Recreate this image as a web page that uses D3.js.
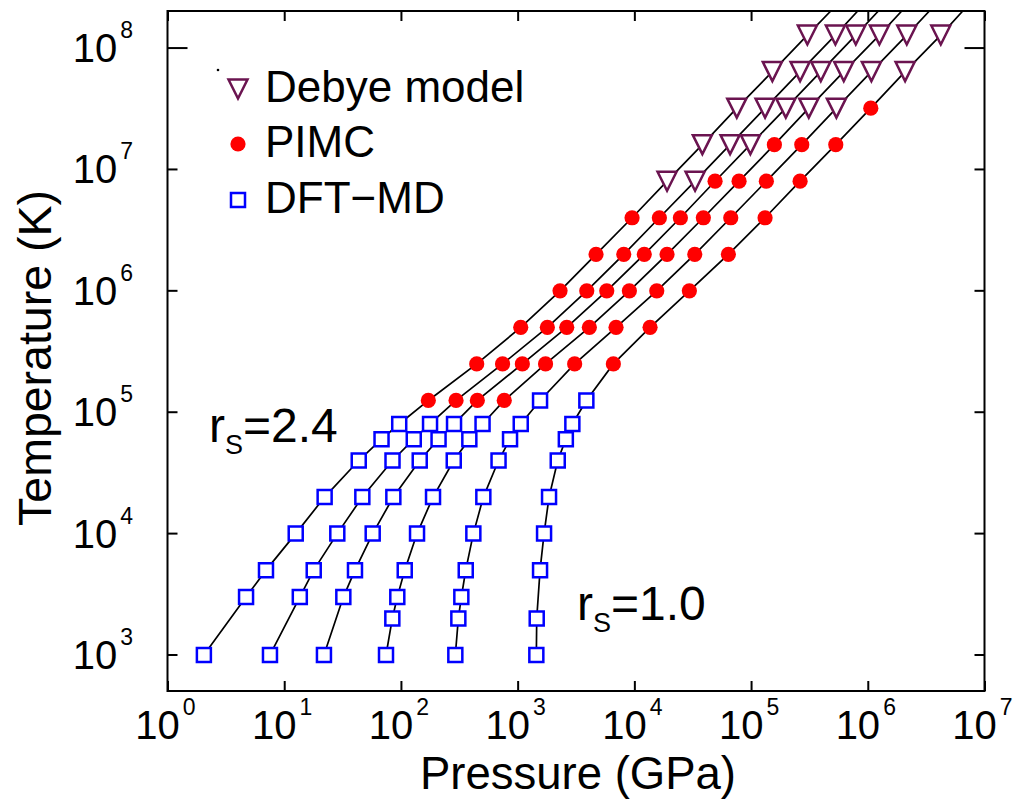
<!DOCTYPE html>
<html>
<head>
<meta charset="utf-8">
<script src="https://cdn.jsdelivr.net/npm/d3@7"></script>
<style>
  body { margin: 0; background: #fff; }
  text { font-family: "Liberation Sans", Arial, Helvetica, sans-serif; fill: #000; }
</style>
</head>
<body>
<script>
// isochores, left (rs=2.4) to right (rs=1.0)
var rsLabels = ["2.4", "1.0"];

var dftT = [
  [1000, 3000, 5000, 10000, 20000, 40000, 60000, 80000],
  [1000, 3000, 5000, 10000, 20000, 40000, 60000, 80000],
  [1000, 3000, 5000, 10000, 20000, 40000, 60000, 80000],
  [1000, 2000, 3000, 5000, 10000, 20000, 40000, 60000, 80000],
  [1000, 2000, 3000, 5000, 10000, 20000, 40000, 60000, 80000, 125000],
  [1000, 2000, 5000, 10000, 20000, 40000, 60000, 80000, 125000]
];
var dftP = [
  [2.05, 4.71, 6.98, 12.55, 22.2, 43.5, 68.2, 96.7],
  [7.55, 13.6, 17.9, 28.5, 46.7, 84.7, 128.8, 177.6],
  [21.9, 32.1, 40.4, 57.3, 86.1, 144.9, 210.1, 285.1],
  [74.5, 84.4, 93.1, 107.8, 137.4, 188.4, 283.5, 385.6, 500.4],
  [292.5, 310.4, 329.3, 359.2, 417.3, 508.2, 686.1, 860.7, 1063, 1556],
  [1446, 1457, 1556, 1684, 1858, 2206, 2588, 2943, 3879]
];
var pimcT = [
  [1.25e5, 2.5e5, 5e5, 1e6, 2e6, 4e6],
  [1.25e5, 2.5e5, 5e5, 1e6, 2e6, 4e6],
  [1.25e5, 2.5e5, 5e5, 1e6, 2e6, 4e6, 8e6],
  [1.25e5, 2.5e5, 5e5, 1e6, 2e6, 4e6, 8e6, 1.6e7],
  [2.5e5, 5e5, 1e6, 2e6, 4e6, 8e6, 1.6e7],
  [2.5e5, 5e5, 1e6, 2e6, 4e6, 8e6, 1.6e7, 3.2e7]
];
var pimcP = [
  [171.7, 446, 1063, 2308, 4696, 9557],
  [296.6, 742.6, 1797, 3910, 8114, 16380],
  [451.5, 1097, 2635, 5800, 12160, 24790, 49150],
  [767.9, 1734, 4116, 9063, 19060, 39010, 78920, 158400],
  [3079, 6969, 15560, 32930, 66990, 135200, 271900],
  [6609, 13630, 29600, 63910, 131800, 263000, 531900, 1061000]
];
var debyeT = [
  [8e6, 1.6e7, 3.2e7, 6.4e7, 1.28e8],
  [8e6, 1.6e7, 3.2e7, 6.4e7, 1.28e8],
  [1.6e7, 3.2e7, 6.4e7, 1.28e8],
  [3.2e7, 6.4e7, 1.28e8],
  [3.2e7, 6.4e7, 1.28e8],
  [6.4e7, 1.28e8]
];
var debyeP = [
  [19060, 38250, 75420, 152200, 303600],
  [33130, 66080, 131800, 263000, 527800],
  [98630, 198400, 395800, 789300],
  [312200, 622800, 1257000],
  [538300, 1074000, 2159000],
  [2088000, 4223000]
];
// pressure where each line leaves the top of the frame
var topP = [482000, 820500, 1233000, 1955000, 3373000, 6516000];

var xTicks = [1, 10, 100, 1e3, 1e4, 1e5, 1e6, 1e7];
var yTicks = [1e3, 1e4, 1e5, 1e6, 1e7, 1e8];
var legendNames = ["Debye model", "PIMC", "DFT\u2212MD"];

var w = 1021, h = 800;
var pL = 167.5, pR = 984.5, pT = 11, pB = 691;

var svg = d3.select("body").append("svg")
    .attr("width", w)
    .attr("height", h);

var x = d3.scaleLog().domain([1, 1e7]).range([pL, pR]);
var y = d3.scaleLog().domain([505, 2.02e8]).range([pB, pT]);

//down-pointing triangle, box centred on the point
var triDown = {
  draw: function(ctx, size){
    var s = Math.sqrt(size);
    ctx.moveTo(-s / 2, -s / 2);
    ctx.lineTo(s / 2, -s / 2);
    ctx.lineTo(0, s / 2);
    ctx.closePath();
  }
};

var triSym = d3.symbol().type(triDown).size(19 * 19);
var sqSym = d3.symbol().type(d3.symbolSquare).size(14 * 14);
var dotSym = d3.symbol().type(d3.symbolCircle).size(Math.PI * 7.6 * 7.6);

var triColor = "#6b1450", sqColor = "#0000ff", dotColor = "#ff0000";

svg.append("clipPath").attr("id", "plotclip")
  .append("rect")
    .attr("x", pL).attr("y", pT)
    .attr("width", pR - pL).attr("height", pB - pT);

//build each isochore: all points ordered by temperature
var curves = dftT.map(function(ts, i){
  var pts = [];
  ts.forEach(function(t, j){ pts.push({T: t, P: dftP[i][j], kind: "dft"}); });
  pimcT[i].forEach(function(t, j){ pts.push({T: t, P: pimcP[i][j], kind: "pimc"}); });
  debyeT[i].forEach(function(t, j){ pts.push({T: t, P: debyeP[i][j], kind: "debye"}); });
  return pts;
});

var line = d3.line()
    .x(function(d){ return x(d.P); })
    .y(function(d){ return y(d.T); });

var plot = svg.append("g").attr("clip-path", "url(#plotclip)");

plot.selectAll(".iso")
    .data(curves)
    .enter()
    .append("path")
    .attr("class", "iso")
    .attr("d", function(d, i){
      return line(d.concat([{T: y.domain()[1], P: topP[i]}]));
    })
    .style("fill", "none")
    .style("stroke", "#000")
    .style("stroke-width", 1.7);

var allPts = d3.merge(curves);

plot.selectAll(".pt")
    .data(allPts)
    .enter()
    .append("path")
    .attr("class", "pt")
    .attr("transform", function(d){ return "translate(" + x(d.P) + "," + y(d.T) + ")"; })
    .attr("d", function(d){
      if (d.kind == "dft") return sqSym();
      if (d.kind == "pimc") return dotSym();
      return triSym();
    })
    .style("fill", function(d){ return d.kind == "pimc" ? dotColor : "#fff"; })
    .style("stroke", function(d){
      if (d.kind == "dft") return sqColor;
      if (d.kind == "debye") return triColor;
      return "none";
    })
    .style("stroke-width", 2.5);

//frame
svg.append("rect")
    .attr("x", pL).attr("y", pT)
    .attr("width", pR - pL).attr("height", pB - pT)
    .style("fill", "none")
    .style("stroke", "#000")
    .style("stroke-width", 2);

//inward ticks on all four sides
function tickLen(v){ return v == 1e8 ? 20 : 10; }

svg.append("g").attr("transform", "translate(0," + pB + ")")
    .call(d3.axisBottom(x).tickValues(xTicks).tickSize(-10).tickFormat(""))
    .call(function(g){ g.select(".domain").remove(); g.selectAll("line").attr("stroke-width", 2); });
svg.append("g").attr("transform", "translate(0," + pT + ")")
    .call(d3.axisTop(x).tickValues(xTicks).tickSize(-10).tickFormat(""))
    .call(function(g){ g.select(".domain").remove(); g.selectAll("line").attr("stroke-width", 2); });

svg.append("g").selectAll("line")
    .data(yTicks)
    .enter()
    .append("line")
    .attr("x1", pL).attr("x2", function(d){ return pL + tickLen(d); })
    .attr("y1", function(d){ return y(d); }).attr("y2", function(d){ return y(d); })
    .style("stroke", "#000").style("stroke-width", 2);
svg.append("g").selectAll("line")
    .data(yTicks)
    .enter()
    .append("line")
    .attr("x1", pR).attr("x2", function(d){ return pR - tickLen(d); })
    .attr("y1", function(d){ return y(d); }).attr("y2", function(d){ return y(d); })
    .style("stroke", "#000").style("stroke-width", 2);

//tick labels as 10 with superscript exponent
function powLabel(sel){
  sel.append("tspan").text("10");
  sel.append("tspan")
      .attr("dy", -24)
      .attr("dx", 3)
      .style("font-size", "23px")
      .text(function(d){ return Math.round(Math.log10(d)); });
}

svg.selectAll(".xlab")
    .data(xTicks)
    .enter()
    .append("text")
    .attr("class", "xlab")
    .attr("x", function(d){ return x(d) - 2; })
    .attr("y", 739)
    .attr("text-anchor", "middle")
    .style("font-size", "40px")
    .call(powLabel);

svg.selectAll(".ylab")
    .data(yTicks)
    .enter()
    .append("text")
    .attr("class", "ylab")
    .attr("x", 133)
    .attr("y", function(d){ return y(d) + 14; })
    .attr("text-anchor", "end")
    .style("font-size", "40px")
    .call(powLabel);

//axis titles
svg.append("text")
    .attr("x", 578).attr("y", 789)
    .attr("text-anchor", "middle")
    .style("font-size", "45.5px")
    .text("Pressure (GPa)");

svg.append("text")
    .attr("transform", "translate(51,358) rotate(-90)")
    .attr("text-anchor", "middle")
    .style("font-size", "46.5px")
    .text("Temperature (K)");

//isochore labels
var rsPos = [[209, 442], [577, 620]];
rsLabels.forEach(function(r, i){
  var t = svg.append("text")
      .attr("x", rsPos[i][0]).attr("y", rsPos[i][1])
      .style("font-size", "48px");
  t.append("tspan").text("r");
  t.append("tspan").attr("dy", 12).style("font-size", "27px").text("S");
  t.append("tspan").attr("dy", -12).text("=" + r);
});

//legend
var legend = svg.append("g").attr("class", "legend");
var legSyms = [triSym, dotSym, sqSym];
var legFill = ["#fff", dotColor, "#fff"];
var legStroke = [triColor, "none", sqColor];
var legY = [89, 144, 200];

legend.selectAll(".legsym")
    .data(legendNames)
    .enter()
    .append("path")
    .attr("class", "legsym")
    .attr("transform", function(d, i){ return "translate(238," + legY[i] + ")"; })
    .attr("d", function(d, i){ return legSyms[i](); })
    .style("fill", function(d, i){ return legFill[i]; })
    .style("stroke", function(d, i){ return legStroke[i]; })
    .style("stroke-width", 2.5);

legend.selectAll(".legtxt")
    .data(legendNames)
    .enter()
    .append("text")
    .attr("class", "legtxt")
    .attr("x", 265)
    .attr("y", function(d, i){ return legY[i] + 13; })
    .style("font-size", "44px")
    .text(function(d){ return d; });

//stray dot next to the legend
legend.append("circle")
    .attr("cx", 218).attr("cy", 70).attr("r", 1.3)
    .style("fill", "#000");
</script>
</body>
</html>
